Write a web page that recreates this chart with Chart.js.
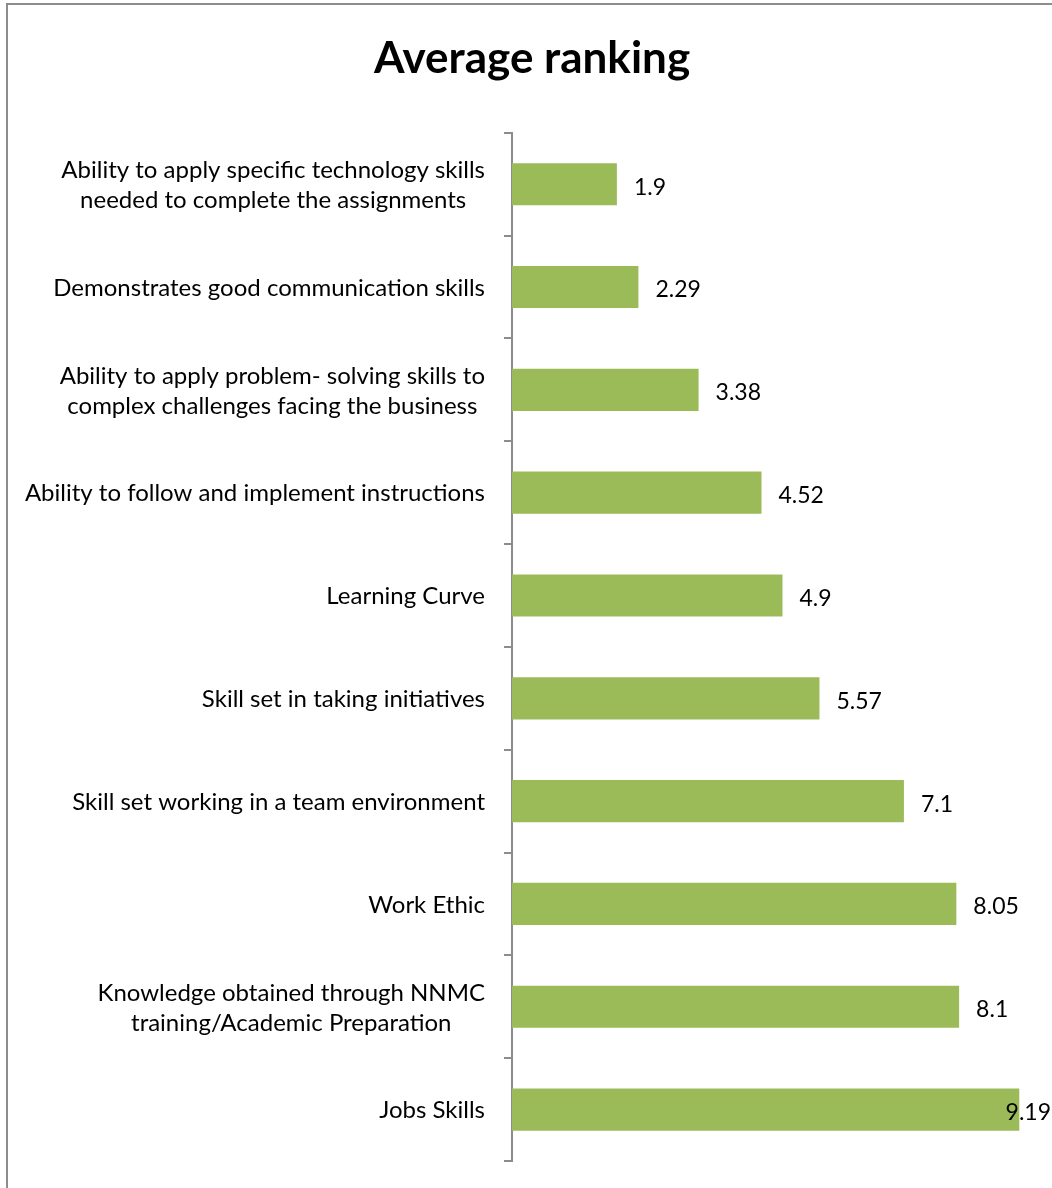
<!DOCTYPE html>
<html>
<head>
<meta charset="utf-8">
<script src="https://cdn.jsdelivr.net/npm/chart.js@4"></script>
<style>
  html, body { margin: 0; padding: 0; background: #fff; overflow: hidden; }
  #frame {
    position: absolute; left: 6px; top: 3px; width: 1200px; height: 1300px;
    border-left: 2px solid #8c8c8c; border-top: 2px solid #8c8c8c;
  }
  #wrap { position: absolute; left: 0; top: 0; width: 1070px; height: 1188px; }
</style>
</head>
<body>
<div id="frame"></div>
<div id="wrap"><canvas id="chart"></canvas></div>
<script>
const categories = [
  ["Ability to apply specific technology skills", "needed to complete the assignments"],
  ["Demonstrates good communication skills"],
  ["Ability to apply problem- solving skills to", "complex challenges facing the business"],
  ["Ability to follow and implement instructions"],
  ["Learning Curve"],
  ["Skill set in taking initiatives"],
  ["Skill set working in a team environment"],
  ["Work Ethic"],
  ["Knowledge obtained through NNMC", "training/Academic Preparation"],
  ["Jobs Skills"]
];
const averageRanking = [1.9, 2.29, 3.38, 4.52, 4.9, 5.57, 7.1, 8.05, 8.1, 9.19];

const FONT = "Lato, 'Open Sans', sans-serif";
const LABEL_SIZE = 24;
const VALUE_SIZE = 23;
const VISIBLE_WIDTH = 1052;

// category labels: block right-aligned against the axis, lines centred within the block
const categoryLabels = {
  id: "categoryLabels",
  afterDraw(chart) {
    const ctx = chart.ctx;
    const y = chart.scales.y;
    const right = chart.chartArea.left - 27;
    ctx.save();
    ctx.font = `${LABEL_SIZE}px ${FONT}`;
    ctx.fillStyle = "#000";
    ctx.textBaseline = "middle";
    ctx.textAlign = "center";
    const lineH = 30;
    categories.forEach((lines, i) => {
      const cy = y.getPixelForTick(i) + 1;
      const w = Math.max(...lines.map((l) => ctx.measureText(l).width));
      const cx = right - w / 2;
      lines.forEach((line, j) => {
        ctx.fillText(line, cx, cy + (j - (lines.length - 1) / 2) * lineH);
      });
    });
    ctx.restore();
  }
};

// value labels beside each bar, kept inside the visible width
const valueLabels = {
  id: "valueLabels",
  afterDatasetsDraw(chart) {
    const ctx = chart.ctx;
    const meta = chart.getDatasetMeta(0);
    ctx.save();
    ctx.font = `${VALUE_SIZE}px ${FONT}`;
    ctx.fillStyle = "#000";
    ctx.textBaseline = "middle";
    ctx.textAlign = "left";
    meta.data.forEach((bar, i) => {
      const text = String(averageRanking[i]);
      const w = ctx.measureText(text).width;
      const x = Math.min(bar.x + 17, VISIBLE_WIDTH - w - 1);
      ctx.fillText(text, x, bar.y + 3);
    });
    ctx.restore();
  }
};

new Chart(document.getElementById("chart"), {
  type: "bar",
  data: {
    labels: categories,
    datasets: [{
      data: averageRanking,
      backgroundColor: "#9BBB59",
      borderWidth: 0,
      barPercentage: 0.41,
      categoryPercentage: 1
    }]
  },
  options: {
    indexAxis: "y",
    responsive: true,
    maintainAspectRatio: false,
    animation: false,
    layout: { padding: { top: 0, right: 6, bottom: 27, left: 0 } },
    scales: {
      x: { display: false, min: 0, max: 10 },
      y: {
        afterFit(scale) { scale.width = 512; },
        ticks: { display: false },
        grid: { drawOnChartArea: false, drawTicks: true, tickLength: 8, color: "#8c8c8c", lineWidth: 2, offset: true },
        border: { color: "#8c8c8c", width: 2 }
      }
    },
    plugins: {
      legend: { display: false },
      tooltip: { enabled: false },
      title: {
        display: true,
        text: "Average ranking",
        color: "#000",
        font: { family: FONT, size: 44, weight: "bold" },
        padding: { top: 32, bottom: 48 }
      }
    }
  },
  plugins: [categoryLabels, valueLabels]
});
</script>
</body>
</html>
